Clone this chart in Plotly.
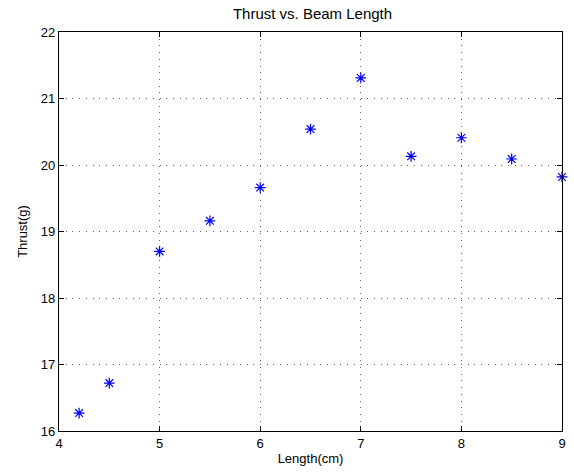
import plotly.graph_objects as go

length_cm = [4.2, 4.5, 5.0, 5.5, 6.0, 6.5, 7.0, 7.5, 8.0, 8.5, 9.0]
thrust_g = [16.27, 16.72, 18.70, 19.16, 19.66, 20.54, 21.31, 20.13, 20.41, 20.09, 19.82]

x_ticks = [4, 5, 6, 7, 8, 9]
y_ticks = [16, 17, 18, 19, 20, 21, 22]

FONT = "Liberation Sans, Arial, sans-serif"

fig = go.Figure()
fig.add_trace(go.Scatter(
    x=length_cm, y=thrust_g, mode="markers",
    marker=dict(symbol="asterisk-open", size=9, color="#0000ff",
                line=dict(color="#0000ff", width=1.2)),
    cliponaxis=False, showlegend=False,
))

axis_common = dict(
    showline=True, linecolor="black", linewidth=1.2, mirror="ticks",
    ticks="inside", ticklen=5, tickcolor="black", tickwidth=1,
    showgrid=True, gridcolor="rgba(0,0,0,0.6)", griddash="1px,5.7px", gridwidth=1,
    zeroline=False,
    tickfont=dict(family=FONT, size=13, color="black"),
)

fig.update_layout(
    width=574, height=476,
    margin=dict(l=59, r=8, t=32, b=45),
    plot_bgcolor="white", paper_bgcolor="white",
    title=dict(text="Thrust vs. Beam Length", x=(59 + 566) / 2 / 574, xanchor="center",
               y=1 - 14/476, yanchor="middle",
               font=dict(family=FONT, size=15, color="black")),
    xaxis=dict(range=[4, 9], tickvals=x_ticks,
               title=dict(text="Length(cm)", standoff=4,
                          font=dict(family=FONT, size=13, color="black")),
               **axis_common),
    yaxis=dict(range=[16, 22], tickvals=y_ticks,
               title=dict(text="Thrust(g)", standoff=10,
                          font=dict(family=FONT, size=13, color="black")),
               **axis_common),
)

fig.write_html("out.html")
